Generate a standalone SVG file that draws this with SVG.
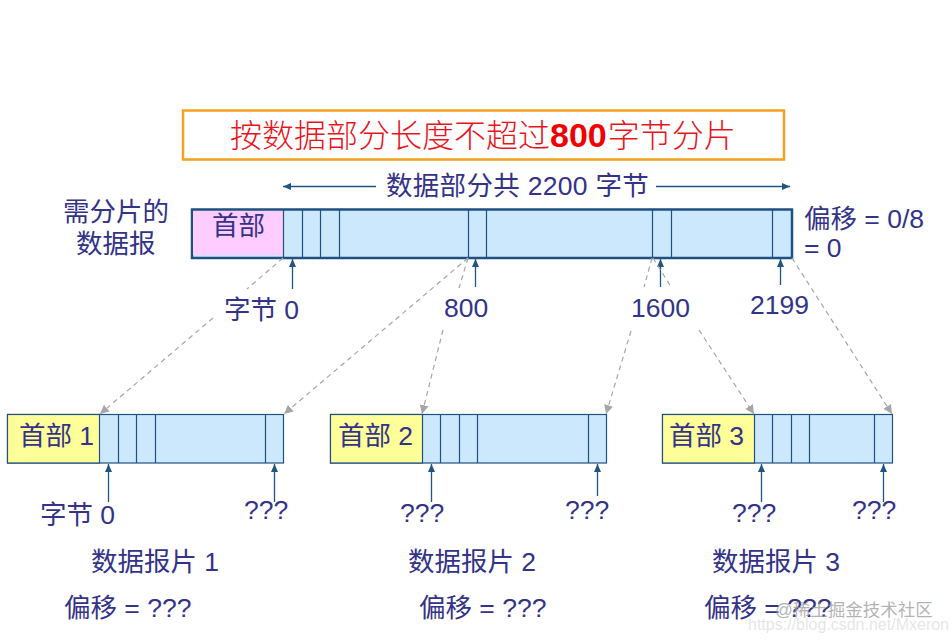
<svg xmlns="http://www.w3.org/2000/svg" width="952" height="640" viewBox="0 0 952 640">
<style>
text{font-family:"Liberation Sans","Noto Sans CJK SC",sans-serif;font-size:26.500px;fill:#333388}
.data{fill:#cce8fc;stroke:#1f5080;stroke-width:1.2}
.head{fill:#ffff99;stroke:#1f5080;stroke-width:1.2}
.div{stroke:#1f5080;stroke-width:1.2;fill:none}
.ar{stroke:#1f5580;stroke-width:1.3;fill:none;marker-end:url(#a)}
.da{stroke:#a6a6a6;stroke-width:1.2;stroke-dasharray:5 4;fill:none}
.dh{marker-end:url(#g)}
</style>
<defs>
<marker id="a" markerUnits="userSpaceOnUse" markerWidth="9" markerHeight="8" refX="8" refY="3.500" orient="auto"><path d="M0 0L8 3.500L0 7z" fill="#1f5580"/></marker>
<marker id="g" markerUnits="userSpaceOnUse" markerWidth="11" markerHeight="10" refX="9" refY="4.500" orient="auto"><path d="M0 0L9 4.500L0 9z" fill="#a6a6a6"/></marker>
</defs>
<rect width="952" height="640" fill="#fff"/>
<g id="title"><rect x="183" y="110.500" width="601" height="49" fill="#fff" stroke="#f5a01e" stroke-width="2.500"/>
<text x="230" y="147" style="font-size:32px;fill:#e8141c;font-family:'Noto Sans CJK SC',sans-serif;font-weight:300">按数据部分长度不超过<tspan style="font-family:'Liberation Sans';font-size:34px;font-weight:700;fill:#f00000">800</tspan><tspan dx="1">字节分片</tspan></text></g>
<g id="span"><text x="386" y="195" letter-spacing=".3">数据部分共 2200 字节</text></g>
<g id="source-label"><text x="63" y="221">需分片的</text><text x="76" y="253">数据报</text></g>
<g id="source">
<rect x="192" y="209.500" width="600" height="48.500" fill="#cce8fc" stroke="#1f5080" stroke-width="2.500"/>
<rect x="193" y="211" width="90" height="44" fill="#ffccff"/>
<path class="div" d="M283.500 210V257M302.500 210V257M320.500 210V257M339.500 210V257M468.500 210V257M486.500 210V257M652.500 210V257M671.500 210V257M772.500 210V257"/>
<text x="212" y="235">首部</text></g>
<g id="offset-0"><text x="804" y="228">偏移 = 0/8</text><text x="804" y="257">= 0</text></g>
<g id="frag1"><rect class="data" x="7.500" y="414.500" width="276" height="48.500"/><rect class="head" x="7.500" y="414.500" width="92" height="48.500"/>
<path class="div" d="M118.500 414V463M136.500 414V463M155.500 414V463M265.500 414V463"/><text x="19" y="445">首部 1</text></g>
<g id="frag2"><rect class="data" x="330.500" y="414.500" width="276" height="48.500"/><rect class="head" x="330.500" y="414.500" width="92" height="48.500"/>
<path class="div" d="M440.500 414V463M459.500 414V463M477.500 414V463M588.500 414V463"/><text x="338" y="445">首部 2</text></g>
<g id="frag3"><rect class="data" x="662.500" y="414.500" width="230" height="48.500"/><rect class="head" x="662.500" y="414.500" width="92" height="48.500"/>
<path class="div" d="M772.500 414V463M791.500 414V463M809.500 414V463M874.500 414V463"/><text x="669" y="445">首部 3</text></g>
<g id="connectors">
<path class="ar" d="M376 186.500H283"/><path class="ar" d="M656 186.500H790"/>
<path class="ar" d="M292.500 289V259"/><path class="ar" d="M475.500 287V259"/><path class="ar" d="M660.500 287V259"/><path class="ar" d="M780.500 285V259"/>
<path class="ar" d="M108.500 502V464"/><path class="ar" d="M274.500 502V464"/><path class="ar" d="M431.500 502V464"/><path class="ar" d="M597.500 496V464"/><path class="ar" d="M761.500 502V464"/><path class="ar" d="M883.500 502V464"/>
<path class="da" d="M283 258L247 289"/><path class="da dh" d="M213 318L100 414"/>
<path class="da dh" d="M468 258L284 414"/>
<path class="da" d="M468 258L459 288"/><path class="da dh" d="M443 330L422 414"/>
<path class="da" d="M652 258L644 287"/><path class="da dh" d="M631 331L606 414"/>
<path class="da" d="M653 258L671 287"/><path class="da dh" d="M699 330L754 414"/>
<path class="da dh" d="M792 258L892 414"/>
</g>
<g id="labels">
<text x="224" y="319">字节 0</text><text x="444" y="317">800</text><text x="631" y="317">1600</text><text x="750" y="314">2199</text>
<text x="40" y="524">字节 0</text><text x="244" y="519">???</text><text x="400" y="522">???</text><text x="565" y="519">???</text><text x="732" y="522">???</text><text x="852" y="519">???</text>
<text x="91" y="571">数据报片 1</text><text x="408" y="571">数据报片 2</text><text x="712" y="571">数据报片 3</text>
<text x="64" y="617">偏移 = ???</text><text x="419" y="617">偏移 = ???</text><text x="704" y="617">偏移 = ???</text>
</g>
<g id="watermark"><text x="775" y="616" style="font-size:17.500px;fill:#999;fill-opacity:.75">@稀土掘金技术社区</text><text x="748" y="630" style="font-size:16px;fill:#ccc;fill-opacity:.5">https://blog.csdn.net/Mxeron</text></g>
</svg>
